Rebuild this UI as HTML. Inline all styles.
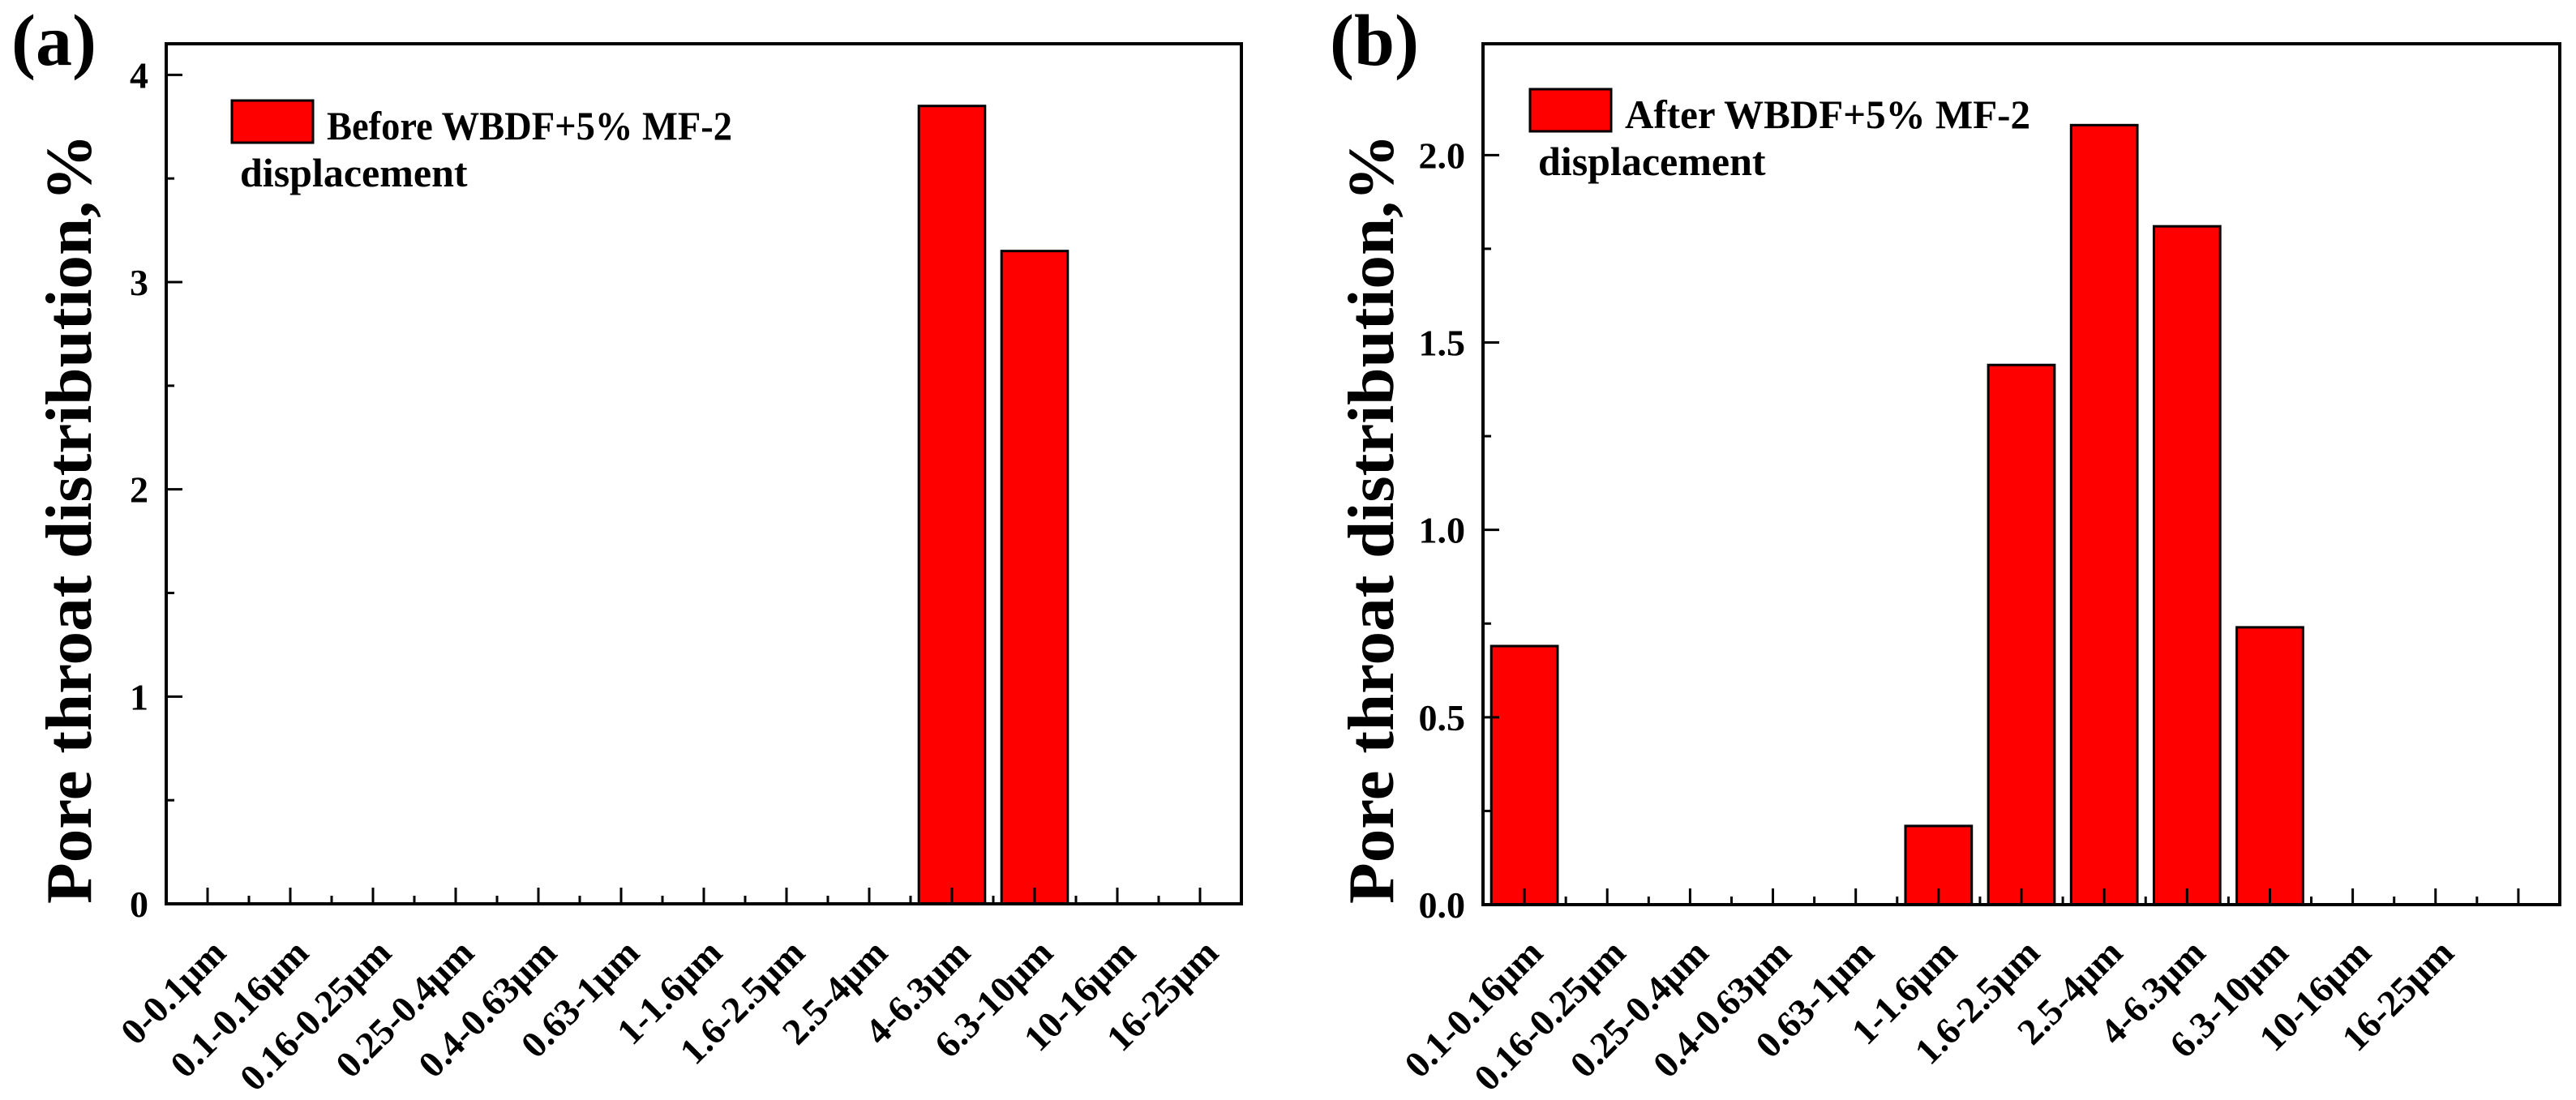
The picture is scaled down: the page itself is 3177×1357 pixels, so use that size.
<!DOCTYPE html>
<html><head><meta charset="utf-8"><style>
html,body{margin:0;padding:0;background:#fff;}
svg{display:block;font-family:"Liberation Serif",serif;font-weight:bold;}
</style></head><body>
<svg id="fig" width="3177" height="1357" viewBox="0 0 3177 1357" xmlns="http://www.w3.org/2000/svg"></svg>
<script>
const catsA = ["0-0.1μm","0.1-0.16μm","0.16-0.25μm","0.25-0.4μm","0.4-0.63μm","0.63-1μm","1-1.6μm","1.6-2.5μm","2.5-4μm","4-6.3μm","6.3-10μm","10-16μm","16-25μm"];
const valsA = [0,0,0,0,0,0,0,0,0,3.85,3.15,0,0];
const ticksA = [0,1,2,3,4];
const tickLabelsA = ["0","1","2","3","4"];
const catsB = ["0.1-0.16μm","0.16-0.25μm","0.25-0.4μm","0.4-0.63μm","0.63-1μm","1-1.6μm","1.6-2.5μm","2.5-4μm","4-6.3μm","6.3-10μm","10-16μm","16-25μm",""];
const valsB = [0.69,0,0,0,0,0.21,1.44,2.08,1.81,0.74,0,0,0];
const ticksB = [0,0.5,1,1.5,2];
const tickLabelsB = ["0.0","0.5","1.0","1.5","2.0"];

const NS="http://www.w3.org/2000/svg";
const svg=document.getElementById('fig');
function el(tag,attrs,parent,txt){const e=document.createElementNS(NS,tag);for(const k in attrs)e.setAttribute(k,attrs[k]);if(txt!==undefined)e.textContent=txt;(parent||svg).appendChild(e);return e;}

function panel(o){
  const g=el('g',{});
  
  
  const L=o.left,R=o.right,T=o.top,B=o.bottom,n=o.cats.length,step=(R-L)/n;
  const xs=i=>L+step*(i+0.5);
  const ys=v=>B-(v/o.ymax)*(B-T);
  o.vals.forEach((v,i)=>{
    if(v<=0)return;
    const r=el('rect',{x:xs(i)-step*0.4,y:ys(v),width:step*0.8,height:B-ys(v),fill:'#ff0000',stroke:'#000','stroke-width':3},g);
    
    
  });
  const f=el('rect',{x:L,y:T,width:R-L,height:B-T,fill:'none',stroke:'#000','stroke-width':4},g);
  
  
  for(let i=0;i<n;i++){
    el('line',{x1:xs(i),x2:xs(i),y1:B,y2:B-20,stroke:'#000','stroke-width':3},g);
    el('line',{x1:xs(i)+step/2,x2:xs(i)+step/2,y1:B,y2:B-10,stroke:'#000','stroke-width':3},g);
    if(o.cats[i]){
      const cx=xs(i)+25,cy=1178;
      const t=el('text',{x:cx,y:cy,'text-anchor':'end','font-size':46,transform:`rotate(-45 ${cx} ${cy})`},g,o.cats[i]);
      
      
    }
  }
  o.ticks.forEach((v,i)=>{
    el('line',{x1:L,x2:L+20,y1:ys(v),y2:ys(v),stroke:'#000','stroke-width':3},g);
    const t=el('text',{x:L-22,y:ys(v)+16,'text-anchor':'end','font-size':46},g,o.tickLabels[i]);
    
    
    if(i<o.ticks.length-1){const m=(v+o.ticks[i+1])/2;el('line',{x1:L,x2:L+10,y1:ys(m),y2:ys(m),stroke:'#000','stroke-width':3},g);}
  });
  const yt=el('text',{x:o.titleX,y:640,'text-anchor':'middle','font-size':80,textLength:950,lengthAdjust:'spacingAndGlyphs',transform:`rotate(-90 ${o.titleX} 640)`},g,'Pore throat distribution,%');
  
  
  const lg=el('g',{},g);
  
  
  el('rect',{x:o.lx,y:o.ly,width:100,height:52,fill:'#ff0000',stroke:'#000','stroke-width':3},lg);
  el('text',{x:o.lx+117,y:o.ly+48,'font-size':50,textLength:500,lengthAdjust:'spacingAndGlyphs'},lg,o.legend);
  el('text',{x:o.lx+10,y:o.ly+106,'font-size':50},lg,'displacement');
  const pl=el('text',{x:o.px,y:80,'font-size':90},g,o.label);
  
  
}
panel({name:'panel-a',left:205,right:1531,top:54,bottom:1115,ymax:4.15,cats:catsA,vals:valsA,ticks:ticksA,tickLabels:tickLabelsA,titleX:112,lx:286,ly:124,legend:'Before WBDF+5% MF-2',px:14,label:'(a)'});
panel({name:'panel-b',left:1829,right:3157,top:54,bottom:1116,ymax:2.297,cats:catsB,vals:valsB,ticks:ticksB,tickLabels:tickLabelsB,titleX:1718,lx:1887,ly:110,legend:'After WBDF+5% MF-2',px:1640,label:'(b)'});
</script>
</body></html>
